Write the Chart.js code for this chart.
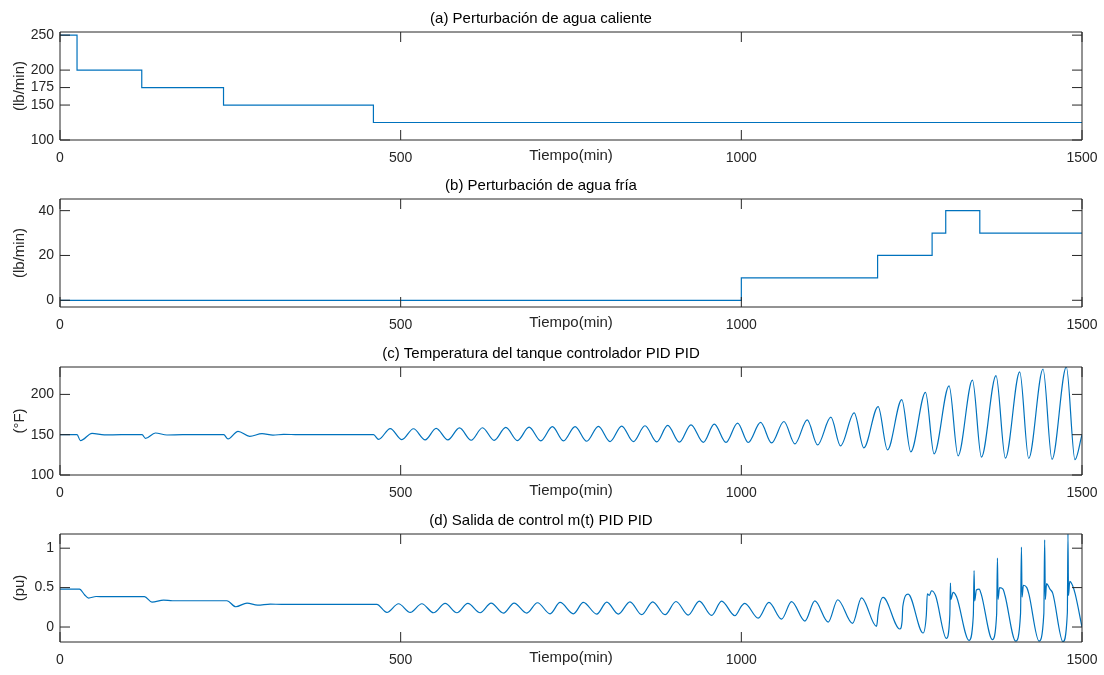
<!DOCTYPE html>
<html>
<head>
<meta charset="utf-8">
<title>Perturbaciones y control PID</title>
<script src="https://cdn.jsdelivr.net/npm/chart.js"></script>
<style>
  body { margin: 0; background: #fff; }
  .panel { position: absolute; left: 0; width: 1104px; height: 168px; }
</style>
</head>
<body>
<div class="panel" style="top:0px"><canvas id="g1" width="1104" height="168"></canvas></div>
<div class="panel" style="top:167px"><canvas id="g2" width="1104" height="168"></canvas></div>
<div class="panel" style="top:335px"><canvas id="g3" width="1104" height="168"></canvas></div>
<div class="panel" style="top:502px"><canvas id="g4" width="1104" height="168"></canvas></div>
<script>
// eje de tiempo comun
const tiempoTicks = [0, 500, 1000, 1500];

// (a) perturbacion de agua caliente (escalones)
const calienteT = [0, 25, 120, 240, 460, 1500];
const calienteV = [250, 200, 175, 150, 125, 125];
const calienteTicks = [100, 150, 175, 200, 250];

// (b) perturbacion de agua fria (escalones)
const friaT = [0, 1000, 1200, 1280, 1300, 1350, 1500];
const friaV = [0, 10, 20, 30, 40, 30, 30];
const friaTicks = [0, 20, 40];

// (c) temperatura del tanque, picos y valles
const tempT = [0, 25, 30, 47, 65, 90, 120.5, 125.4, 140, 157, 180, 240.3, 246.6, 261.3, 278.4, 296.5, 312.6, 328.2, 350, 460.2,
  467.6, 484.7, 501.8, 518.8, 536, 552.1, 569.3, 586.3, 603.5, 620.1, 637.2, 654.3, 671.4, 688.5, 705.7, 722.7,
  738.9, 756, 773.1, 790.2, 807.3, 824.4, 841.5, 858.6, 875.8, 891.9, 909, 926.1, 944.2, 960.3, 977.5, 994.5,
  1010.1, 1028.3, 1044.4, 1062.5, 1078.6, 1096.7, 1111.9, 1131.4, 1145.6, 1165.6, 1179.8, 1200.8, 1214.5, 1235.5,
  1248.7, 1270.3, 1282.9, 1304.9, 1318.1, 1339.2, 1352.4, 1373.8, 1387.6, 1408.6, 1421.8, 1442.8, 1456, 1477, 1489.7, 1500];
const tempV = [150, 150, 142.7, 151.7, 149.7, 150, 150, 145.5, 152.1, 149.6, 150, 150, 144.7, 154.2, 148, 151.3, 149.4, 150.5, 150, 150,
  144.2, 157.6, 143.9, 157.4, 143.6, 157.8, 143.5, 158.4, 143.1, 158.6, 143.0, 159.1, 142.7, 159.3, 142.4, 159.9,
  142.3, 160.0, 141.9, 160.3, 141.5, 160.7, 141.4, 161.1, 141.0, 161.5, 140.7, 162.3, 140.6, 163.1, 140.5, 164.4,
  140.3, 165.2, 139.8, 166.4, 138.6, 168.4, 137.3, 171.7, 136.1, 177.0, 133.7, 184.9, 131.2, 193.5,
  128.7, 202.5, 126.3, 210.7, 123.8, 217.6, 122.2, 223.3, 121.0, 227.9, 120.5, 231.5, 119.3, 234.0, 119.0, 150];
const tempTicks = [100, 150, 200];

// (d) salida de control m(t)
const salidaT = [0, 28.6, 36, 42, 53, 65, 124, 135, 152, 165, 245, 258, 274.5, 290, 308.7, 325, 465,
  479.8, 496.9, 514, 531.1, 548.2, 565.3, 582.5, 598.6, 616.7, 632.8, 650.8, 666.5, 685.1, 700.8, 719.3, 734,
  753.5, 768.2, 787.8, 802.5, 819.5, 836.6, 853.8, 869.9, 888, 904.1, 922.1, 938.3, 956.4, 971, 990.6, 1000.5, 1005,
  1024.8, 1040.5, 1059.1, 1073.7, 1093.3, 1107.9, 1127.5, 1141.5, 1163.2, 1176.4, 1198.4,
  1199.5, 1200.5, 1208.1, 1232.6, 1236, 1237, 1244.8, 1266.8, 1271.5, 1273, 1276, 1279, 1285,
  1301, 1306, 1306.9, 1307.6, 1310.8, 1316, 1334.2, 1340.5, 1341.6, 1342.5, 1345, 1349, 1352,
  1368.5, 1374.7, 1375.9, 1376.8, 1379, 1384, 1387, 1402.7, 1409.8, 1411.1, 1412, 1414, 1419, 1422,
  1436.9, 1444, 1445.2, 1446.2, 1448, 1453, 1457, 1472.1, 1478.5, 1479.4, 1480.2, 1482, 1486, 1490, 1500];
const salidaV = [0.481, 0.481, 0.41, 0.367, 0.387, 0.385, 0.385, 0.316, 0.342, 0.333, 0.333, 0.257, 0.304, 0.278, 0.291, 0.287, 0.287,
  0.185, 0.295, 0.185, 0.295, 0.181, 0.299, 0.181, 0.299, 0.181, 0.303, 0.177, 0.303, 0.177, 0.308, 0.168, 0.312,
  0.168, 0.312, 0.164, 0.316, 0.164, 0.320, 0.156, 0.320, 0.156, 0.324, 0.152, 0.329, 0.147, 0.329, 0.143, 0.27, 0.30,
  0.113, 0.312, 0.100, 0.322, 0.076, 0.331, 0.063, 0.346, 0.046, 0.369, 0.008,
  0.06, 0.155, 0.375, -0.025, 0.08, 0.26, 0.417, -0.076, 0.15, 0.42, 0.40, 0.46, 0.40,
  -0.144, 0.15, 0.557, 0.35, 0.44, 0.38, -0.169, 0.15, 0.717, 0.33, 0.47, 0.48, 0.42,
  -0.16, 0.16, 0.873, 0.35, 0.50, 0.48, 0.40, -0.178, 0.17, 1.013, 0.38, 0.53, 0.50, 0.42,
  -0.178, 0.17, 1.105, 0.35, 0.55, 0.48, 0.43, -0.186, 0.18, 1.18, 0.40, 0.58, 0.53, 0.42, 0.0];
const salidaTicks = [0, 0.5, 1];

const fuente = "'Liberation Sans', Arial, sans-serif";
const colorLinea = '#0072BD';
const colorEje = '#262626';

function zip(xs, ys) {
  return xs.map((x, i) => ({ x: x, y: ys[i] }));
}

// caja y marcas hacia dentro, como en MATLAB
const ejesCaja = {
  id: 'ejesCaja',
  afterDatasetsDraw(chart) {
    const { ctx, chartArea: a, scales: { x, y } } = chart;
    ctx.save();
    ctx.strokeStyle = colorEje;
    ctx.lineWidth = 1;
    ctx.beginPath();
    x.ticks.forEach(t => {
      const px = x.getPixelForValue(t.value);
      ctx.moveTo(px, a.bottom); ctx.lineTo(px, a.bottom - 10);
      ctx.moveTo(px, a.top); ctx.lineTo(px, a.top + 10);
    });
    y.ticks.forEach(t => {
      const py = y.getPixelForValue(t.value);
      ctx.moveTo(a.left, py); ctx.lineTo(a.left + 10, py);
      ctx.moveTo(a.right, py); ctx.lineTo(a.right - 10, py);
    });
    ctx.rect(a.left, a.top, a.right - a.left, a.bottom - a.top);
    ctx.stroke();
    ctx.restore();
  }
};

function panel(id, titulo, etiquetaY, puntos, yMin, yMax, yTicks, escalon) {
  new Chart(document.getElementById(id), {
    type: 'line',
    data: {
      datasets: [{
        data: puntos,
        borderColor: colorLinea,
        borderWidth: 1.2,
        pointRadius: 0,
        fill: false,
        stepped: escalon ? 'before' : false,
        cubicInterpolationMode: escalon ? 'default' : 'monotone'
      }]
    },
    options: {
      responsive: false,
      animation: false,
      events: [],
      layout: { padding: { left: 0, right: 22, top: 0, bottom: 0 } },
      plugins: {
        legend: { display: false },
        tooltip: { enabled: false },
        title: {
          display: true,
          text: titulo,
          color: '#000',
          font: { family: fuente, size: 15, weight: 'normal' },
          padding: { top: 10, bottom: 4 }
        }
      },
      scales: {
        x: {
          type: 'linear',
          min: 0,
          max: 1500,
          afterBuildTicks: s => { s.ticks = tiempoTicks.map(v => ({ value: v })); },
          afterFit: s => { s.height = 28; s.paddingLeft = 0; s.paddingRight = 0; },
          grid: { display: false, drawTicks: false },
          border: { display: false },
          ticks: {
            color: colorEje, font: { family: fuente, size: 14 }, padding: 10, maxRotation: 0, autoSkip: false,
            callback: v => String(v)
          },
          title: {
            display: true,
            text: 'Tiempo(min)',
            color: colorEje,
            font: { family: fuente, size: 15 },
            padding: { top: 0, bottom: 3 }
          }
        },
        y: {
          type: 'linear',
          min: yMin,
          max: yMax,
          afterBuildTicks: s => { s.ticks = yTicks.map(v => ({ value: v })); },
          afterFit: s => { s.width = 60; s.paddingTop = 0; s.paddingBottom = 0; },
          grid: { display: false, drawTicks: false },
          border: { display: false },
          ticks: { color: colorEje, font: { family: fuente, size: 14 }, padding: 6, callback: v => String(v) },
          title: {
            display: true,
            text: etiquetaY,
            color: colorEje,
            font: { family: fuente, size: 15 },
            padding: { top: 11, bottom: 0 }
          }
        }
      }
    },
    plugins: [ejesCaja]
  });
}

panel('g1', '(a) Perturbación de agua caliente', '(lb/min)', zip(calienteT, calienteV), 100, 254.5, calienteTicks, true);
panel('g2', '(b) Perturbación de agua fría', '(lb/min)', zip(friaT, friaV), -3, 45.2, friaTicks, true);
panel('g3', '(c) Temperatura del tanque controlador PID PID', '(°F)', zip(tempT, tempV), 100, 234, tempTicks, false);
panel('g4', '(d) Salida de control m(t) PID PID', '(pu)', zip(salidaT, salidaV), -0.19, 1.18, salidaTicks, false);
</script>
</body>
</html>
